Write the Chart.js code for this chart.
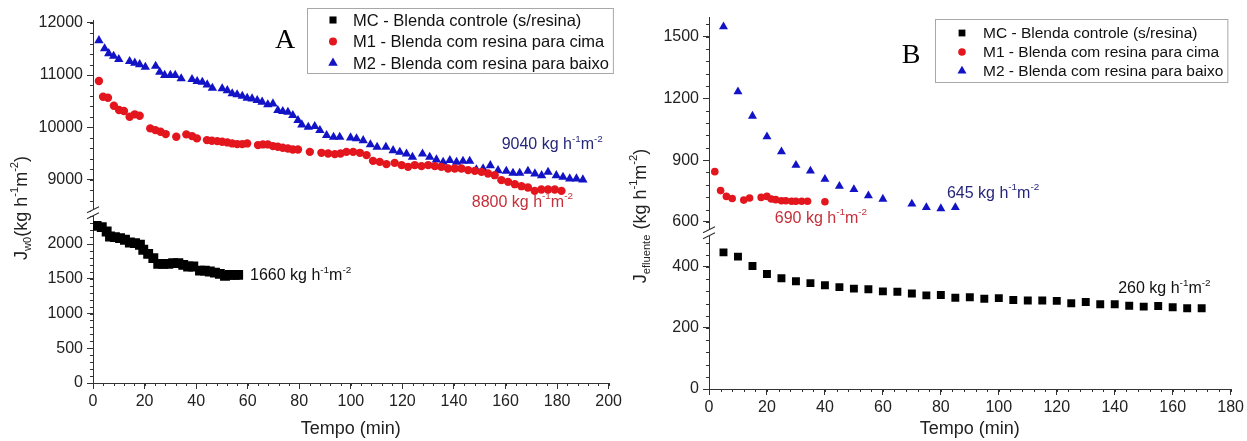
<!DOCTYPE html>
<html>
<head>
<meta charset="utf-8">
<script src="https://cdn.jsdelivr.net/npm/chart.js@4.4.0/dist/chart.umd.min.js"></script>
<style>
html, body { margin: 0; padding: 0; background: #fff; }
#wrap { position: relative; width: 1247px; height: 441px; }
#boxA { position: absolute; left: 0; top: 0; }
#boxB { position: absolute; left: 625px; top: 0; }
</style>
</head>
<body>
<div id="wrap">
  <div id="boxA"><canvas id="chartA" width="625" height="441"></canvas></div>
  <div id="boxB"><canvas id="chartB" width="622" height="441"></canvas></div>
</div>
<script>
// ---- dados ----
const labels = ['MC - Blenda controle (s/resina)', 'M1 - Blenda com resina para cima', 'M2 - Blenda com resina para baixo'];

// Painel A: Jw0 (kg h-1 m-2) x tempo (min)
const tA_mc = [1.4, 3.4, 5.3, 6.6, 8.5, 10.5, 12.4, 14.3, 16.3, 18.2, 19.5, 21.4, 23.4, 25.3, 27.2, 29.2, 31.1, 33.1, 35, 36.9, 38.9, 41.5, 43.4, 45.3, 47.3, 49.2, 51.2, 53.1, 55, 56.3];
const jA_mc = [2262, 2244, 2180, 2108, 2099, 2085, 2061, 2022, 2013, 1989, 1917, 1859, 1797, 1715, 1715, 1715, 1725, 1725, 1700, 1676, 1676, 1618, 1618, 1604, 1589, 1571, 1542, 1556, 1556, 1556];

const tA_m1 = [2.3, 3.9, 5.8, 8.1, 10.1, 12, 14.2, 16.2, 18.1, 22.2, 24.2, 26.2, 28.2, 32.3, 36.2, 38.4, 40.3, 44.2, 46.1, 48.2, 50.1, 52.1, 54, 55.9, 57.9, 59.8, 64, 65.9, 67.8, 69.8, 71.7, 73.6, 75.6, 77.5, 79.5, 84.1, 88.6, 91.2, 93.8, 96, 98.3, 100.9, 103.5, 106.1, 108.6, 111.2, 113.8, 117, 119.7, 122.2, 124.8, 127.4, 130, 132.6, 135.1, 137.7, 140.3, 142.9, 145.5, 148.1, 150.7, 153.2, 155.8, 158.4, 161, 163.6, 166.2, 168.7, 171.3, 173.9, 176.5, 179.1, 181.7];
const jA_m1 = [10885, 10585, 10566, 10413, 10331, 10312, 10203, 10249, 10222, 9981, 9948, 9916, 9872, 9820, 9866, 9834, 9790, 9757, 9744, 9738, 9725, 9713, 9694, 9681, 9681, 9694, 9662, 9675, 9675, 9643, 9629, 9610, 9598, 9579, 9579, 9533, 9514, 9502, 9490, 9500, 9533, 9533, 9514, 9470, 9361, 9342, 9298, 9323, 9279, 9247, 9279, 9260, 9279, 9260, 9247, 9216, 9216, 9216, 9184, 9170, 9151, 9120, 9088, 8993, 8960, 8916, 8878, 8853, 8788, 8815, 8815, 8815, 8788];

const tA_m2 = [2.3, 4.5, 6.1, 8, 10, 14.2, 16.2, 18.1, 20.3, 24.3, 25.9, 27.8, 30, 31.9, 34.2, 38.4, 40.4, 42.4, 44.3, 46.3, 50.1, 52.1, 54, 55.9, 57.9, 59.8, 61.7, 63.7, 65.6, 67.8, 69.8, 71.7, 73.6, 75.6, 77.5, 79.5, 81, 83.5, 86, 88, 90.6, 93.3, 95.7, 99.9, 102.2, 104.8, 107.6, 110.2, 113.6, 116.4, 119, 121.6, 123.9, 127.8, 130.6, 133.2, 135.8, 138.4, 141, 143.5, 146.1, 148.7, 151.3, 154.1, 157.1, 160.3, 162.9, 165.5, 168.7, 171.4, 174, 176.5, 179.7, 182.3, 184.9, 187.5, 190];
const jA_m2 = [11660, 11505, 11410, 11360, 11300, 11260, 11230, 11200, 11150, 11170, 11055, 10995, 10995, 10995, 10930, 10918, 10880, 10865, 10815, 10750, 10740, 10705, 10645, 10625, 10598, 10560, 10548, 10515, 10485, 10435, 10452, 10325, 10306, 10292, 10230, 10135, 10050, 10005, 10020, 9942, 9848, 9815, 9815, 9803, 9785, 9750, 9670, 9623, 9623, 9560, 9528, 9496, 9432, 9496, 9432, 9382, 9336, 9370, 9336, 9355, 9355, 9192, 9210, 9273, 9178, 9165, 9126, 9126, 9165, 9115, 9082, 9145, 9082, 9050, 9020, 9020, 9000];

// Painel B: Jefluente (kg h-1 m-2) x tempo (min)
const tB_mc = [5, 10, 15, 20, 25, 30, 35, 40, 45, 50, 55, 60, 65, 70, 75, 80, 85, 90, 95, 100, 105, 110, 115, 120, 125, 130, 135, 140, 145, 150, 155, 160, 165, 170];
const jB_mc = [448, 434, 403, 377, 363, 353, 347, 340, 334, 329, 327, 320, 319, 313, 307, 308, 299, 301, 296, 298, 292, 290, 290, 289, 281, 285, 278, 278, 273, 270, 272, 268, 265, 265];

const tB_m1 = [2, 4, 6, 8, 12, 14, 18, 20, 21.5, 23, 25, 26.5, 28.5, 30, 32, 34, 40];
const jB_m1 = [844, 752, 724, 714, 706, 716, 719, 724, 711, 708, 703, 703, 700, 700, 700, 700, 698];

const tB_m2 = [5, 10, 15, 20, 25, 30, 35, 40, 45, 50, 55, 60, 70, 75, 80, 85];
const jB_m2 = [1548, 1232, 1114, 1014, 941, 876, 848, 808, 774, 758, 727, 711, 687, 670, 665, 670];

// ticks
const xTicksA = [0, 20, 40, 60, 80, 100, 120, 140, 160, 180, 200];
const yTopTicksA = [9000, 10000, 11000, 12000];
const yBotTicksA = [0, 500, 1000, 1500, 2000];
const xTicksB = [0, 20, 40, 60, 80, 100, 120, 140, 160, 180];
const yTopTicksB = [600, 900, 1200, 1500];
const yBotTicksB = [0, 200, 400];

// valores finais anotados
const finalA = ['9040', '8800', '1660'];
const finalB = ['645', '690', '260'];

const FONT = "'Liberation Sans', Arial, sans-serif";
const AX = '#333';
const RED = '#e3161e';
const BLUE = '#1212c6';
const NAVY = '#26267a';
const DRED = '#c5303a';

Chart.defaults.font.family = FONT;

const pts = (t, v) => t.map((x, i) => ({ x: x, y: v[i] }));
const unit = n => [{ t: n + ' kg h' }, { t: '-1', sup: 1 }, { t: 'm' }, { t: '-2', sup: 1 }];

// texto com sub/sobrescrito
function rich(ctx, parts, x, y, size, color, measureOnly) {
  let cx = x;
  ctx.save();
  ctx.fillStyle = color;
  ctx.textBaseline = 'middle';
  ctx.textAlign = 'left';
  parts.forEach(p => {
    const s = (p.sup || p.sub) ? size * 0.62 : size;
    ctx.font = s + 'px ' + FONT;
    const dy = p.sup ? -size * 0.38 : (p.sub ? size * 0.33 : 0);
    if (!measureOnly) ctx.fillText(p.t, cx, y + dy);
    cx += ctx.measureText(p.t).width;
  });
  ctx.restore();
  return cx - x;
}

function marker(ctx, style, x, y, r, color) {
  ctx.save();
  ctx.fillStyle = color;
  ctx.beginPath();
  if (style === 'rect') {
    ctx.rect(x - r * 0.707, y - r * 0.707, r * 1.414, r * 1.414);
  } else if (style === 'circle') {
    ctx.arc(x, y, r, 0, Math.PI * 2);
  } else {
    ctx.moveTo(x, y - r);
    ctx.lineTo(x + r * 0.866, y + r * 0.5);
    ctx.lineTo(x - r * 0.866, y + r * 0.5);
    ctx.closePath();
  }
  ctx.fill();
  ctx.restore();
}

function minor(chart, id, step, len) {
  const s = chart.scales[id];
  const ctx = chart.ctx;
  ctx.save();
  ctx.strokeStyle = AX;
  ctx.lineWidth = 1;
  for (let v = Math.ceil(s.min / step) * step; v <= s.max + 1e-6; v += step) {
    const p = Math.round(s.getPixelForValue(v)) + 0.5;
    ctx.beginPath();
    if (s.isHorizontal()) {
      ctx.moveTo(p, s.top);
      ctx.lineTo(p, s.top + len);
    } else {
      ctx.moveTo(s.right, p);
      ctx.lineTo(s.right - len, p);
    }
    ctx.stroke();
  }
  ctx.restore();
}

function extras(o) {
  return {
    id: 'extras',
    afterDraw(chart) {
      const ctx = chart.ctx;
      const area = chart.chartArea;
      minor(chart, 'x', o.minor[0], 3);
      minor(chart, 'yTop', o.minor[1], 3);
      minor(chart, 'yBot', o.minor[2], 3);

      // quebra do eixo
      const bx = area.left, by = chart.scales.yTop.bottom;
      ctx.save();
      ctx.fillStyle = '#fff';
      ctx.fillRect(bx - 2, by - 3, 4, 6);
      ctx.strokeStyle = AX;
      ctx.lineWidth = 1.2;
      [-3, 3].forEach(d => {
        ctx.beginPath();
        ctx.moveTo(bx - 6, by + d + 3);
        ctx.lineTo(bx + 6, by + d - 3);
        ctx.stroke();
      });
      ctx.restore();

      // legenda
      const L = o.legend;
      let maxW = 0;
      ctx.save();
      ctx.font = L.size + 'px ' + FONT;
      labels.forEach(s => { maxW = Math.max(maxW, ctx.measureText(s).width); });
      ctx.restore();
      ctx.save();
      ctx.fillStyle = '#fff';
      ctx.strokeStyle = '#a8a8a8';
      ctx.lineWidth = 1;
      ctx.fillRect(L.x, L.y, L.tx + maxW + 4, L.h);
      ctx.strokeRect(L.x + 0.5, L.y + 0.5, L.tx + maxW + 4, L.h);
      ctx.restore();
      chart.data.datasets.forEach((ds, i) => {
        const yy = L.y + L.first + i * L.step;
        marker(ctx, ds.pointStyle, L.x + L.mx, yy, L.r[i], ds.backgroundColor);
        ctx.save();
        ctx.fillStyle = '#111';
        ctx.font = L.size + 'px ' + FONT;
        ctx.textBaseline = 'middle';
        ctx.fillText(ds.label, L.x + L.tx, yy + 1);
        ctx.restore();
      });

      // letra do painel
      ctx.save();
      ctx.fillStyle = '#000';
      ctx.font = "28px 'Liberation Serif', 'Times New Roman', serif";
      ctx.textAlign = 'center';
      ctx.textBaseline = 'middle';
      ctx.fillText(o.letter.t, o.letter.x, o.letter.y);
      ctx.restore();

      // anotacoes
      o.notes.forEach(n => {
        const x = chart.scales.x.getPixelForValue(n.x);
        const y = chart.scales[n.axis].getPixelForValue(n.y);
        rich(ctx, unit(n.txt), x, y, 16, n.color);
      });

      // titulo do eixo y
      const w = rich(ctx, o.yTitle, 0, 0, 18, '#222', true);
      ctx.save();
      ctx.translate(o.yTitlePos[0], o.yTitlePos[1]);
      ctx.rotate(-Math.PI / 2);
      rich(ctx, o.yTitle, -w / 2, 0, 18, '#222');
      ctx.restore();
    }
  };
}

function axisY(o, which) {
  const c = o[which];
  return {
    type: 'linear', position: 'left', stack: 'j', stackWeight: c.w,
    min: c.min, max: c.max,
    afterBuildTicks: s => { s.ticks = c.ticks.map(v => ({ value: v })); },
    afterFit: s => { s.width = o.yW; },
    grid: { drawOnChartArea: false, tickLength: 6, tickColor: AX },
    border: { color: AX, width: 1 },
    ticks: { font: { size: 16 }, color: '#222', padding: 4, callback: v => String(v) }
  };
}

function panel(id, o) {
  return new Chart(document.getElementById(id).getContext('2d'), {
    type: 'scatter',
    data: {
      datasets: [
        { label: labels[0], data: pts(o.mc[0], o.mc[1]), yAxisID: 'yBot', pointStyle: 'rect', pointRadius: o.r[0], backgroundColor: '#000', borderWidth: 0 },
        { label: labels[1], data: pts(o.m1[0], o.m1[1]), yAxisID: 'yTop', pointStyle: 'circle', pointRadius: o.r[1], backgroundColor: RED, borderWidth: 0 },
        { label: labels[2], data: pts(o.m2[0], o.m2[1]), yAxisID: 'yTop', pointStyle: 'triangle', pointRadius: o.r[2], backgroundColor: BLUE, borderWidth: 0 }
      ]
    },
    options: {
      responsive: false,
      animation: false,
      events: [],
      layout: { padding: o.pad },
      plugins: { legend: { display: false }, tooltip: { enabled: false } },
      scales: {
        x: {
          type: 'linear', min: 0, max: o.xMax,
          afterBuildTicks: s => { s.ticks = o.xTicks.map(v => ({ value: v })); },
          afterFit: s => { s.height = o.xH; },
          grid: { drawOnChartArea: false, tickLength: 6, tickColor: AX },
          border: { color: AX, width: 1 },
          ticks: { font: { size: 16 }, color: '#222', padding: 3, maxRotation: 0, autoSkip: false, callback: v => String(v) },
          title: { display: true, text: 'Tempo (min)', font: { size: 18 }, color: '#222', padding: { top: 0, bottom: 1 } }
        },
        yBot: axisY(o, 'bot'),
        yTop: axisY(o, 'top')
      }
    },
    plugins: [extras(o)]
  });
}

panel('chartA', {
  mc: [tA_mc, jA_mc], m1: [tA_m1, jA_m1], m2: [tA_m2, jA_m2],
  r: [7, 4.2, 5.4],
  xMax: 200, xTicks: xTicksA, xH: 58, yW: 93,
  pad: { left: 0, right: 16, top: 20, bottom: 0 },
  top: { min: 8370, max: 12050, ticks: yTopTicksA, w: 192.5 },
  bot: { min: 0, max: 2450, ticks: yBotTicksA, w: 170 },
  minor: [4, 200, 100],
  legend: { x: 307, y: 8, h: 65, mx: 26, tx: 46, first: 12, step: 21.5, size: 16.5, r: [5, 4, 5.5] },
  letter: { t: 'A', x: 285, y: 41 },
  notes: [
    { axis: 'yTop', x: 158.5, y: 9662, txt: finalA[0], color: NAVY },
    { axis: 'yTop', x: 146.9, y: 8572, txt: finalA[1], color: DRED },
    { axis: 'yBot', x: 60.9, y: 1542, txt: finalA[2], color: '#111' }
  ],
  yTitle: [{ t: 'J' }, { t: 'w0', sub: 1 }, { t: '(kg h' }, { t: '-1', sup: 1 }, { t: 'm' }, { t: '-2', sup: 1 }, { t: ')' }],
  yTitlePos: [22, 208]
});

panel('chartB', {
  mc: [tB_mc, jB_mc], m1: [tB_m1, jB_m1], m2: [tB_m2, jB_m2],
  r: [5.6, 3.8, 5.2],
  xMax: 180, xTicks: xTicksB, xH: 52, yW: 84,
  pad: { left: 0, right: 14, top: 17, bottom: 0 },
  top: { min: 547, max: 1595, ticks: yTopTicksB, w: 215.6 },
  bot: { min: 0, max: 512, ticks: yBotTicksB, w: 156 },
  minor: [4, 60, 40],
  legend: { x: 310, y: 19, h: 63, mx: 27, tx: 48, first: 14, step: 19, size: 15.5, r: [4.8, 3.8, 5.2] },
  letter: { t: 'B', x: 286, y: 56 },
  notes: [
    { axis: 'yTop', x: 82.1, y: 737, txt: finalB[0], color: NAVY },
    { axis: 'yTop', x: 22.7, y: 615, txt: finalB[1], color: DRED },
    { axis: 'yBot', x: 141.2, y: 328, txt: finalB[2], color: '#111' }
  ],
  yTitle: [{ t: 'J' }, { t: 'efluente', sub: 1 }, { t: ' (kg h' }, { t: '-1', sup: 1 }, { t: 'm' }, { t: '-2', sup: 1 }, { t: ')' }],
  yTitlePos: [16, 216]
});
</script>
</body>
</html>
